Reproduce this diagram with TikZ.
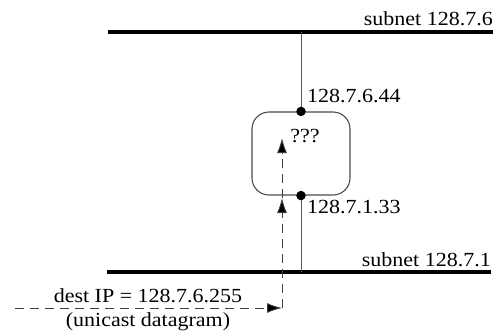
\documentclass[tikz,border=0pt]{standalone}
\usepackage{fontspec}
\setmainfont{Liberation Serif}[FakeStretch=1.1]
\usetikzlibrary{arrows.meta}
\begin{document}
\begin{tikzpicture}[x=1pt,y=-1pt,
  subnetline/.style={line width=3.6pt},
  tapline/.style={draw=black!65,line width=1pt},
  routerbox/.style={draw=black!70,line width=1.1pt,rounded corners=17pt,
    minimum width=98pt,minimum height=83pt,inner sep=0pt},
  ifdot/.style={circle,fill=black,inner sep=0pt,minimum size=9.5pt},
  lbl/.style={font=\fontsize{20}{22}\selectfont,inner sep=0pt},
  flow/.style={draw=black!75,dash pattern=on 9pt off 6pt,line width=0.9pt,
    -{Latex[length=15pt,width=10pt,fill=black]}}]
  \useasboundingbox (0,0) rectangle (493,333);

  % the two Ethernet segments
  \coordinate (t1) at (108,32);
  \coordinate (t2) at (493,32);
  \coordinate (b1) at (107,272);
  \coordinate (b2) at (491,272);
  \draw[subnetline] (t1) -- (t2);
  \draw[subnetline] (b1) -- (b2);
  \node[lbl,anchor=base east] (tname) at (493,25) {subnet 128.7.6};
  \node[lbl,anchor=base east] (bname) at (491,266) {subnet 128.7.1};

  % the router and its two interfaces
  \node[routerbox] (router) at (301,153.5) {};
  \draw[tapline] (router.north) -- (router.north |- t1);
  \draw[tapline] (router.south) -- (router.south |- b1);
  \node[ifdot] (if6) at (router.north) {};
  \node[ifdot] (if1) at (router.south) {};
  \node[lbl,anchor=base west] (ip6) at (307,102) {128.7.6.44};
  \node[lbl,anchor=base west] (ip1) at (307,213) {128.7.1.33};
  \node[lbl,anchor=base] (qq) at (305,142) {???};

  % the datagram arriving and being handed to the router
  \coordinate (src) at (15,308);
  \coordinate (turn) at (282,308);
  \coordinate (enter) at (282,198);
  \coordinate (inside) at (282,138);
  \draw[flow] (src) -- (turn);
  \draw[flow] (turn) -- (enter);
  \draw[flow] (enter) -- (inside);
  \node[lbl,anchor=base] (dst) at (148,302) {dest IP = 128.7.6.255};
  \node[lbl,anchor=base] (kind) at (148,326) {(unicast datagram)};
\end{tikzpicture}
\end{document}
